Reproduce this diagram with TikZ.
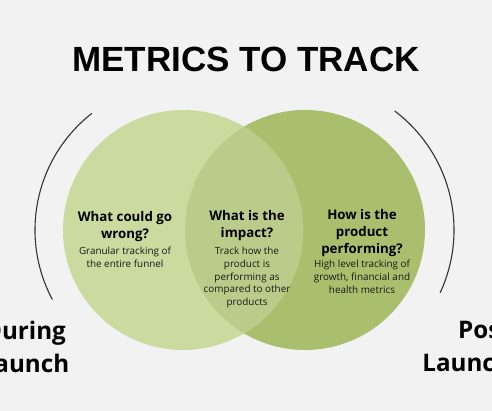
\documentclass[tikz,border=0pt]{standalone}
\usepackage{fontspec}
\setmainfont{Open Sans}
\newfontfamily\titlefont{Liberation Sans}
\definecolor{bgpaper}{HTML}{F2F2F2}
\definecolor{leftgreen}{HTML}{CBDBA0}
\definecolor{rightgreen}{HTML}{A9BF6D}
\definecolor{midgreen}{HTML}{BBCC8A}
\definecolor{arcgray}{HTML}{333333}

\begin{document}
\begin{tikzpicture}[x=1pt, y=1pt,
  heading/.style={font=\fontsize{13.3}{17}\selectfont\bfseries, align=center, anchor=north, inner sep=0pt},
  detail/.style={font=\fontsize{9.9}{12.9}\selectfont, align=center, anchor=north, inner sep=0pt, text=black!90},
  phase/.style={font=\fontsize{24.2}{33}\selectfont\bfseries, inner sep=0pt},
  bracket/.style={arcgray, line width=1.1pt}]
  \useasboundingbox (0,0) rectangle (492,411);
  \fill[bgpaper] (0,0) rectangle (492,411);
  \clip (0,0) rectangle (492,411);
  % title
  \node[font=\titlefont\fontsize{35}{40}\selectfont\bfseries, anchor=base, inner sep=0pt] (title) at (246,339) {METRICS TO TRACK};
  % venn circles
  \coordinate (lc) at (183,181);
  \coordinate (rc) at (305,181);
  \fill[rightgreen] (rc) circle[radius=120];
  \fill[leftgreen] (lc) circle[radius=120];
  \begin{scope}
    \clip (lc) circle[radius=120];
    \fill[midgreen] (rc) circle[radius=120];
  \end{scope}
  % side brackets
  \draw[bracket] (lc) ++(128:148) arc[start angle=128, end angle=208, radius=148];
  \draw[bracket] (rc) ++(53:149) arc[start angle=53, end angle=-25, radius=149];
  % left: during launch
  \node[heading] (wrongq) at (125,200) {What could go\\wrong?};
  \node[detail] (wrongtxt) at (125,164.5) {Granular tracking of\\the entire funnel};
  % overlap: impact
  \node[heading] (impactq) at (247,201) {What is the\\impact?};
  \node[detail] (impacttxt) at (247,164.5) {Track how the\\product is\\performing as\\compared to other\\products};
  % right: post launch
  \node[heading] (perfq) at (362,202) {How is the\\product\\performing?};
  \node[detail] (perftxt) at (362,151) {High level tracking of\\growth, financial and\\health metrics};
  % phase labels
  \node[phase, align=center, anchor=north] (during) at (25,90) {During\\Launch};
  \node[phase, align=right, anchor=north east] (post) at (511,90) {Post\\Launch};
\end{tikzpicture}
\end{document}
